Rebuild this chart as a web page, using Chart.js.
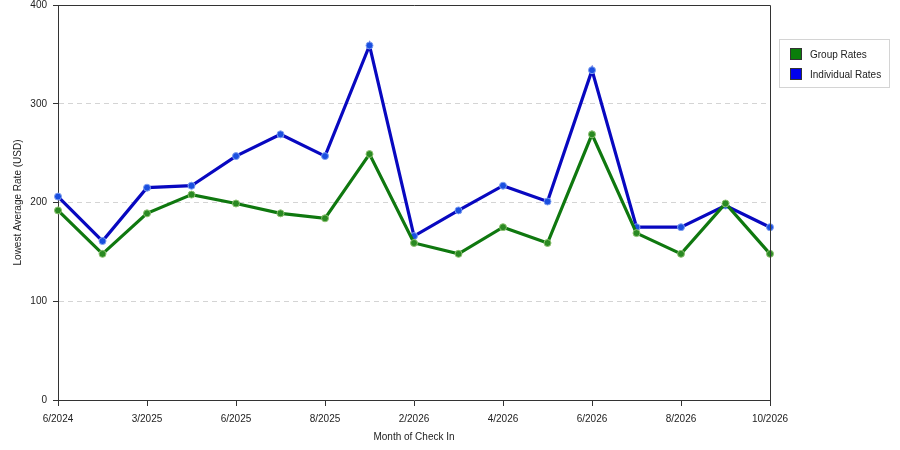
<!DOCTYPE html>
<html>
<head>
<meta charset="utf-8">
<script src="https://cdn.jsdelivr.net/npm/chart.js@4.4.1/dist/chart.umd.min.js"></script>
<style>
  body { margin: 0; background: #fff; }
  #wrap { position: relative; width: 900px; height: 450px; }
  #legend {
    position: absolute; left: 779px; top: 39px; width: 109px; height: 47px;
    border: 1px solid #d4d4d4; font: 10px "Liberation Sans", Arial, sans-serif; color: #222;
  }
  .item { position: absolute; left: 10px; height: 13px; line-height: 13px; }
  .item span { display: inline-block; width: 12px; height: 12px; vertical-align: top; margin-right: 8px; border: 1px solid #333; box-sizing: border-box; }
</style>
</head>
<body>
<div id="wrap">
  <canvas id="myChart" width="900" height="450"></canvas>
  <div id="legend">
    <div class="item" style="top:8px"><span style="background:#0a7d0a"></span>Group Rates</div>
    <div class="item" style="top:28px"><span style="background:#0000ee"></span>Individual Rates</div>
  </div>
</div>
<script>
// data
var months = ['6/2024', '', '3/2025', '', '6/2025', '', '8/2025', '', '2/2026', '', '4/2026', '', '6/2026', '', '8/2026', '', '10/2026'];
var groupRates = [192, 148, 189, 208, 199, 189, 184, 249, 159, 148, 175, 159, 269, 169, 148, 199, 148];
var individualRates = [206, 161, 215, 217, 247, 269, 247, 359, 166, 192, 217, 201, 334, 175, 175, 197, 175];
var yTicks = [0, 100, 200, 300, 400];

var fontSpec = { family: '"Liberation Sans", Arial, sans-serif', size: 10 };

// frame on top and right of the plot
const framePlugin = {
    id: 'frame',
    afterDraw: function (chart) {
        const a = chart.chartArea;
        const c = chart.ctx;
        c.save();
        c.strokeStyle = '#333';
        c.lineWidth = 1;
        c.beginPath();
        c.moveTo(a.left, a.top + 0.5);
        c.lineTo(a.right + 0.5, a.top + 0.5);
        c.lineTo(a.right + 0.5, a.bottom);
        c.stroke();
        c.restore();
    }
};

const ctx = document.getElementById('myChart');
new Chart(ctx, {
    type: 'line',
    data: {
        labels: months,
        datasets: [{
            label: 'Group Rates',
            data: groupRates,
            borderColor: '#0f780f',
            borderWidth: 3.2,
            pointRadius: 3.5,
            pointBackgroundColor: '#2a8a22',
            pointBorderColor: '#8cc070',
            pointBorderWidth: 1,
            tension: 0
        }, {
            label: 'Individual Rates',
            data: individualRates,
            borderColor: '#0808c0',
            borderWidth: 3.2,
            pointRadius: 3.5,
            pointBackgroundColor: '#1a4fe0',
            pointBorderColor: '#7f9ff0',
            pointBorderWidth: 1,
            tension: 0
        }]
    },
    options: {
        responsive: false,
        animation: false,
        layout: { padding: { left: 8, right: 130, top: 5, bottom: 0 } },
        plugins: {
            legend: { display: false },
            tooltip: { enabled: false }
        },
        scales: {
            x: {
                offset: false,
                afterFit: function (axis) { axis.height = 50; },
                border: { color: '#333', width: 1 },
                grid: {
                    drawOnChartArea: false,
                    tickLength: 6,
                    color: function (c) { return months[c.index] ? '#333' : 'rgba(0,0,0,0)'; }
                },
                ticks: { autoSkip: false, maxRotation: 0, color: '#222', font: fontSpec, padding: 7 },
                title: { display: true, text: 'Month of Check In', color: '#222', font: fontSpec, padding: { top: 4, bottom: 7 } }
            },
            y: {
                min: 0,
                max: 400,
                afterBuildTicks: function (axis) { axis.ticks = yTicks.map(v => ({ value: v })); },
                afterFit: function (axis) { axis.width = 50; axis.paddingTop = 0; axis.paddingBottom = 0; },
                border: { color: '#333', width: 1, dash: [5, 4] },
                grid: {
                    tickLength: 5,
                    color: function (c) { return (c.tick && c.tick.value > 0 && c.tick.value < 400) ? '#d4d4d4' : 'rgba(0,0,0,0)'; },
                    tickColor: '#333',
                    tickBorderDash: []
                },
                ticks: { color: '#222', font: fontSpec, padding: 6 },
                title: { display: true, text: 'Lowest Average Rate (USD)', color: '#222', font: fontSpec, padding: { top: 4, bottom: 6 } }
            }
        }
    },
    plugins: [framePlugin]
});
</script>
</body>
</html>
